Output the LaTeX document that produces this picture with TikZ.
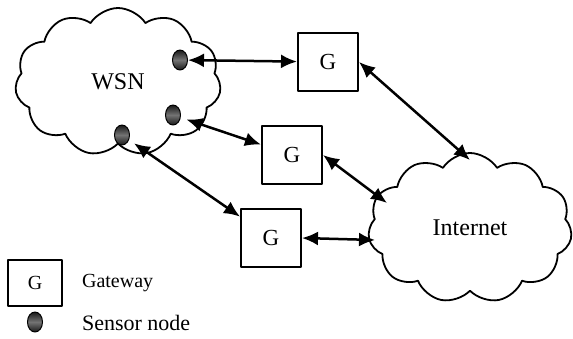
\documentclass[tikz,border=0pt]{standalone}
\usepackage{fontspec}
\setmainfont{Liberation Serif}
\usetikzlibrary{shapes.symbols,shapes.geometric,arrows.meta}
\tikzset{
 gate/.style={draw,line width=1pt,minimum width=30pt,minimum height=29pt,inner sep=0pt,font=\fontsize{11.5}{13}\selectfont},
 sensor/.style={ellipse,draw=black,line width=0.5pt,minimum width=7.5pt,minimum height=10pt,inner sep=0pt,top color=black!90,bottom color=black!90,middle color=black!55},
 net/.style={cloud,draw,line width=0.9pt,cloud puffs=11,cloud puff arc=115,cloud ignores aspect,inner sep=0pt,font=\fontsize{12}{14}\selectfont},
 link/.style={<->,line width=1.25pt}
}
\begin{document}
\begin{tikzpicture}[x=0.5pt,y=-0.5pt, line join=round, >={Latex[length=8pt,width=7pt]}]
 \useasboundingbox (0,0) rectangle (573,338);
 \node[net,minimum width=103pt,minimum height=74pt] (wsn) at (118,82) {WSN};
 \node[net,minimum width=102pt,minimum height=75pt] (inet) at (470,228) {Internet};
 \node[sensor] (s1) at (180,60) {};
 \node[sensor] (s2) at (173,115) {};
 \node[sensor] (s3) at (122,135) {};
 \node[gate] (g1) at (328,62) {G};
 \node[gate] (g2) at (292,155) {G};
 \node[gate] (g3) at (271,238) {G};
 % points where the links meet the internet cloud
 \coordinate (i1) at (470,160);
 \coordinate (i2) at (387,203);
 \coordinate (i3) at (375,240);
 \draw[link] (s1) -- (g1);
 \draw[link,shorten <=3pt] (s2) -- (g2);
 \draw[link,shorten <=3pt] (s3) -- (g3);
 \draw[link] (g1.east) -- (i1);
 \draw[link] (g2.east) -- (i2);
 \draw[link] (g3.east) -- (i3);
 % legend
 \node[gate,minimum width=27pt,minimum height=23pt,font=\fontsize{10}{12}\selectfont] (lg) at (35,283) {G};
 \node[anchor=west,font=\fontsize{10}{12}\selectfont] (lgtext) at (75,283) {Gateway};
 \node[sensor] (ls) at (35,322) {};
 \node[anchor=west,font=\fontsize{11}{13}\selectfont] (lstext) at (75,323) {Sensor node};
\end{tikzpicture}
\end{document}
